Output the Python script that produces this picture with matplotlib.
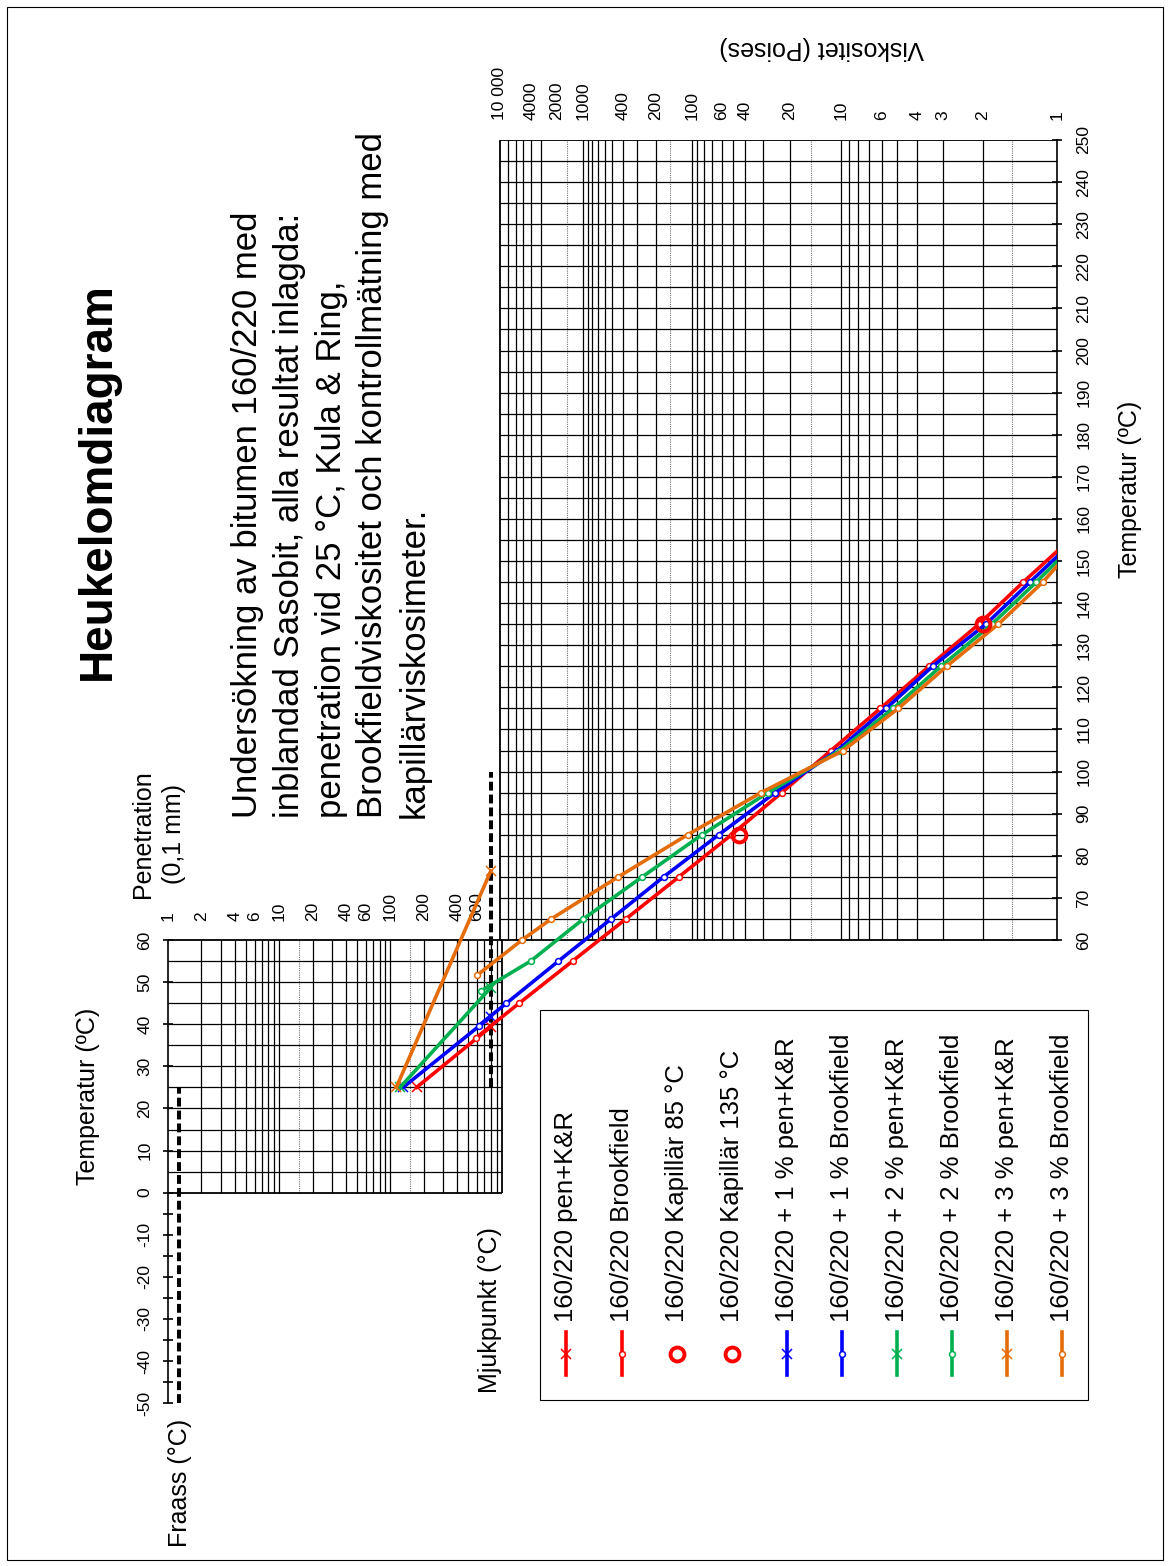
import numpy as np
import matplotlib
matplotlib.use("Agg")
import matplotlib.pyplot as plt
from matplotlib.lines import Line2D
from matplotlib.patches import Rectangle

plt.rcParams['font.family'] = ['Liberation Sans', 'DejaVu Sans']

W, H, DPI = 1170, 1566, 100

# --- data -------------------------------------------------------------
labels = ['160/220', '160/220 + 1 %', '160/220 + 2 %', '160/220 + 3 %']
colors = ['#ff0000', '#0000ff', '#00b050', '#e46c0a']

# penetration at 25 C (0,1 mm) and softening point (K&R, C), drawn at pen 800
pen_25 = [172, 130, 122, 113]
soft_point = [39.4, 41.8, 48.7, 76.4]

# Brookfield viscosity (Poise)
bf_temp_0 = [36.8, 45, 55, 65, 75, 85, 95, 105, 115, 125, 135, 145, 155]
bf_visc_0 = [22000, 5500, 1300, 375, 127, 51, 22.7, 11.4, 6.1, 3.5, 2.08, 1.36, 0.90]
bf_temp_1 = [39.7, 45, 55, 65, 75, 85, 95, 105, 115, 125, 135, 145, 155]
bf_visc_1 = [20000, 8400, 1900, 516, 171, 63, 25.1, 10.5, 5.7, 3.37, 1.94, 1.28, 0.86]
bf_temp_2 = [47.9, 55, 65, 75, 85, 95, 105, 115, 125, 135, 145, 155]
bf_visc_2 = [18900, 4000, 1000, 267, 83, 28, 10.1, 5.24, 3.08, 1.83, 1.21, 0.83]
bf_temp_3 = [51.7, 60, 65, 75, 85, 95, 105, 115, 125, 135, 145, 155]
bf_visc_3 = [21000, 5100, 2300, 440, 108, 31.1, 9.7, 4.94, 2.90, 1.72, 1.14, 0.82]

# capillary viscosity (Poise)
cap_temp = [85, 135]
cap_visc = [45, 2.0]

# axis ticks / grid values
visc_ticks = [10000, 4000, 2000, 1000, 400, 200, 100, 60, 40, 20, 10, 6, 4, 3, 2, 1]
visc_tick_labels = ['10 000', '4000', '2000', '1000', '400', '200', '100', '60', '40',
                    '20', '10', '6', '4', '3', '2', '1']
visc_grid = [2, 3, 4, 5, 6, 7, 8, 9, 10, 20, 30, 40, 50, 60, 70, 80, 90, 100,
             200, 300, 400, 500, 600, 700, 800, 900, 1000, 3000, 4000, 5000, 6000, 8000]
visc_grid_light = [1.5, 15, 150, 1500]
pen_ticks = [1, 2, 4, 6, 10, 20, 40, 60, 100, 200, 400, 600]
pen_grid = [2, 3, 4, 5, 6, 7, 8, 9, 10, 20, 30, 40, 50, 60, 70, 80, 90, 100,
            200, 300, 400, 500, 600, 700, 800, 900]
pen_grid_light = [15, 150]
temp_left_ticks = [-50, -45, -40, -35, -30, -25, -20, -15, -10, -5, 0, 10, 20, 30, 40, 50, 60]
temp_left_labels = [-50, -40, -30, -20, -10, 0, 10, 20, 30, 40, 50, 60]
temp_right_ticks = list(range(60, 251, 10))

# viscosity scale of the Heukelom chart: poise -> horizontal pixel
scale_visc = [0.1, 1, 1.5, 2, 3, 4, 5, 6, 7, 8, 9, 10, 15, 20, 30, 40, 50, 60, 70, 80, 90,
              100, 150, 200, 300, 400, 500, 600, 700, 800, 900, 1000, 1500, 2000, 3000,
              4000, 5000, 6000, 8000, 10000, 1e9]
scale_px = [1318.5, 1057.5, 1012.3, 982.7, 943.3, 916.7, 897.3, 881.7, 869.0, 858.3, 849.0,
            840.7, 810.7, 790.0, 763.3, 745.0, 732.7, 721.7, 712.3, 704.3, 696.7,
            691.7, 670.0, 656.0, 636.7, 622.7, 612.3, 605.0, 597.7, 591.7, 587.7,
            583.3, 566.7, 556.7, 540.7, 530.7, 522.7, 516.0, 508.3, 500.0, 150.0]
scale_u = np.log10(scale_visc)
scale_neg_x = -np.array(scale_px)   # increasing with viscosity


def visc_fwd(v):
    v = np.clip(np.asarray(v, dtype=float), 1e-6, None)
    return np.interp(np.log10(v), scale_u, scale_neg_x)


def visc_inv(f):
    return 10 ** np.interp(np.asarray(f, dtype=float), scale_neg_x, scale_u)


def fpos(x, y):
    return x / W, 1 - y / H


# --- figure -----------------------------------------------------------
fig = plt.figure(figsize=(W / DPI, H / DPI), dpi=DPI)
fig.add_artist(Rectangle(fpos(7, 1560), (1163 - 7) / W, (1560 - 7) / H,
                         transform=fig.transFigure, fill=False, lw=0.8, ec='black'))

L, R, TOP, BOT = 168.0, 1057.5, 140.0, 1403.2
PEN_1000 = 501.6
ax_p = fig.add_axes([L / W, 1 - BOT / H, (R - L) / W, (BOT - TOP) / H])
ax_p.set_xscale('log')
ax_p.set_xlim(1, 10 ** (3 * (R - L) / (PEN_1000 - L)))
ax_p.set_ylim(-50, 250)

ax_v = ax_p.twiny()
ax_v.set_xscale('function', functions=(visc_fwd, visc_inv))
ax_v.set_xlim(float(visc_inv(-L)), 1.0)
ax_v.set_ylim(-50, 250)

for a in (ax_p, ax_v):
    for s in a.spines.values():
        s.set_visible(False)
    a.tick_params(which='both', bottom=False, top=False, left=False, right=False,
                  labelbottom=False, labeltop=False, labelleft=False, labelright=False)
ax_p.spines['left'].set_visible(True)
ax_p.spines['left'].set_bounds(-50, 60)
ax_p.spines['left'].set_linewidth(1.2)
ax_p.spines['right'].set_visible(True)
ax_p.spines['right'].set_bounds(60, 250)
ax_p.spines['right'].set_linewidth(1.2)

# penetration grid
gkw = dict(colors='black', linewidth=0.9, zorder=1)
ax_p.vlines(pen_grid, 0, 60, **gkw)
ax_p.vlines(pen_grid_light, 0, 60, colors='0.45', linewidth=0.8,
            linestyles=(0, (1, 1)), zorder=1)
ax_p.vlines([1000], 0, 60, colors='black', linewidth=1.3, zorder=1)
ax_p.hlines(np.arange(5, 60, 5), 1, 1000, **gkw)
ax_p.hlines([0, 60], 1, 1000, colors='black', linewidth=1.3, zorder=1)

# viscosity grid
ax_v.vlines(visc_grid, 60, 250, **gkw)
ax_v.vlines(visc_grid_light, 60, 250, colors='0.45', linewidth=0.8,
            linestyles=(0, (1, 1)), zorder=1)
ax_v.vlines([10000], 60, 250, colors='black', linewidth=1.3, zorder=1)
ax_v.hlines(np.arange(65, 250, 5), 10000, 1, **gkw)
ax_v.hlines([60, 250], 10000, 1, colors='black', linewidth=1.3, zorder=1)

# tick marks across the temperature spines
ytr = ax_p.get_yaxis_transform()
ax_p.plot(np.zeros(len(temp_left_ticks)), temp_left_ticks, transform=ytr, ls='none',
          marker='_', ms=7, mew=1.2, color='black', clip_on=False, zorder=3)
ax_p.plot(np.ones(len(temp_right_ticks)), temp_right_ticks, transform=ytr, ls='none',
          marker='_', ms=7, mew=1.2, color='black', clip_on=False, zorder=3)

tick_fs = 12.5
for t in temp_left_labels:
    ax_p.annotate(str(t), xy=(0, t), xycoords=ytr, xytext=(-16.6, 0),
                  textcoords='offset points', rotation=90, ha='center', va='center',
                  fontsize=tick_fs)
for t in temp_right_ticks:
    ax_p.annotate(str(t), xy=(1, t), xycoords=ytr, xytext=(19, 0),
                  textcoords='offset points', rotation=90, ha='center', va='center',
                  fontsize=tick_fs)
for p in pen_ticks:
    ax_p.annotate(str(p), xy=(p, 60), xytext=(0, 13.4), textcoords='offset points',
                  rotation=90, ha='center', va='bottom', fontsize=tick_fs)
for v, lab in zip(visc_ticks, visc_tick_labels):
    ax_v.annotate(lab, xy=(v, 250), xytext=(0, 14.4), textcoords='offset points',
                  rotation=90, ha='center', va='bottom', fontsize=tick_fs)

# Fraass and softening point reference lines
dkw = dict(color='black', lw=2.9, dashes=(2.2, 1.0), zorder=2)
ax_p.plot([1.25, 1.25], [-50, 25], **dkw)
ax_p.plot([800, 800], [25, 100], **dkw)

# measured series
lw = 2.6
ms_o, mew_o = 4.2, 1.1
ms_x, mew_x = 7, 1.1
bf_temps = [bf_temp_0, bf_temp_1, bf_temp_2, bf_temp_3]
bf_viscs = [bf_visc_0, bf_visc_1, bf_visc_2, bf_visc_3]
for i, c in enumerate(colors):
    ax_p.plot([pen_25[i], 800], [25, soft_point[i]], color=c, lw=lw, marker='x',
              ms=ms_x, mew=mew_x, zorder=4)
for i, c in enumerate(colors):
    ax_v.plot(bf_viscs[i], bf_temps[i], color=c, lw=lw, marker='o', ms=ms_o,
              mew=mew_o, mfc='white', mec=c, zorder=4)
ax_v.plot(cap_visc, cap_temp, ls='none', marker='o', ms=10, mew=2.8, mfc='none',
          mec='#ff0000', zorder=5)

# legend, drawn in the rotated orientation
leg_x = [566, 622, 676.5, 732, 787, 841.6, 896.5, 951.8, 1007, 1062]
leg_text = ['160/220 pen+K&R', '160/220 Brookfield', '160/220 Kapillär 85 °C',
            '160/220 Kapillär 135 °C',
            '160/220 + 1 % pen+K&R', '160/220 + 1 % Brookfield',
            '160/220 + 2 % pen+K&R', '160/220 + 2 % Brookfield',
            '160/220 + 3 % pen+K&R', '160/220 + 3 % Brookfield']
leg_color = ['#ff0000', '#ff0000', '#ff0000', '#ff0000', colors[1], colors[1],
             colors[2], colors[2], colors[3], colors[3]]
leg_kind = ['x', 'o', 'ring', 'ring', 'x', 'o', 'x', 'o', 'x', 'o']

fig.add_artist(Rectangle(fpos(540, 1400), (1088 - 540) / W, (1400 - 1010) / H,
                         transform=fig.transFigure, fill=False, lw=0.8, ec='black'))
for x, txt, c, kind in zip(leg_x, leg_text, leg_color, leg_kind):
    ys = [fpos(x, 1332)[1], fpos(x, 1353.5)[1], fpos(x, 1375)[1]]
    xs = [x / W] * 3
    if kind == 'ring':
        fig.add_artist(Line2D([x / W], [ys[1]], transform=fig.transFigure, ls='none',
                              marker='o', ms=10, mew=2.8, mfc='none', mec=c))
    elif kind == 'x':
        fig.add_artist(Line2D(xs, ys, transform=fig.transFigure, color=c, lw=lw,
                              marker='x', ms=ms_x, mew=mew_x, markevery=[1]))
    else:
        fig.add_artist(Line2D(xs, ys, transform=fig.transFigure, color=c, lw=lw,
                              marker='o', ms=ms_o, mew=mew_o, mfc='white', mec=c,
                              markevery=[1]))
    fig.text(*fpos(x, 1322), txt, rotation=90, ha='center', va='bottom', fontsize=18.5)

# titles and axis captions
fig.text(*fpos(98, 481), 'Heukelomdiagram', rotation=90, ha='center', va='center',
         fontsize=33, fontweight='bold')
sub_lines = ['Undersökning av bitumen 160/220 med',
             'inblandad Sasobit, alla resultat inlagda:',
             'penetration vid 25 °C, Kula & Ring,',
             'Brookfieldviskositet och kontrollmätning med',
             'kapillärviskosimeter.']
for k, line in enumerate(sub_lines):
    fig.text(*fpos(248 + 41.5 * k, 818), line, rotation=90, ha='center', va='bottom',
             fontsize=25)

cap_fs = 18
fig.text(*fpos(143, 834), 'Penetration', rotation=90, ha='center', va='center', fontsize=cap_fs)
fig.text(*fpos(174, 834), '(0,1 mm)', rotation=90, ha='center', va='center', fontsize=cap_fs)
fig.text(*fpos(88, 1096), 'Temperatur (ºC)', rotation=90, ha='center', va='center',
         fontsize=cap_fs)
fig.text(*fpos(1130, 489), 'Temperatur (ºC)', rotation=90, ha='center', va='center',
         fontsize=cap_fs)
fig.text(*fpos(822, 48), 'Viskositet (Poises)', rotation=180, ha='center', va='center',
         fontsize=cap_fs)
fig.text(*fpos(490, 1310), 'Mjukpunkt (°C)', rotation=90, ha='center', va='center',
         fontsize=cap_fs)
fig.text(*fpos(180, 1483), 'Fraass (°C)', rotation=90, ha='center', va='center',
         fontsize=cap_fs)

fig.savefig('out.png', dpi=DPI)
